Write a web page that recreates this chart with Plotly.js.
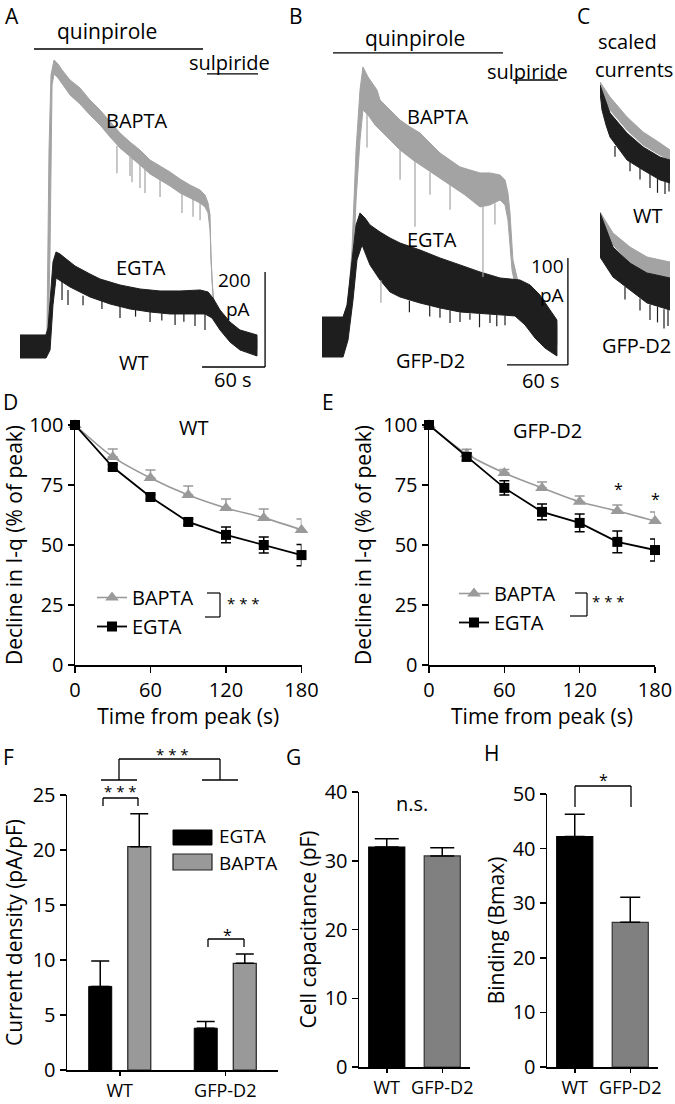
<!DOCTYPE html>
<html><head><meta charset="utf-8">
<script src="https://cdn.plot.ly/plotly-3.0.1.min.js"></script>
<style>html,body{margin:0;padding:0;background:#fff}#chart{width:675px;height:1104px}</style>
</head><body><div id="chart"></div><script>
// ================= DATA =================
// Panel A (WT) current traces: envelopes, time (s) and current (pA)
const aBaptaUpT = [22.8,25.7,27.6,29.5,32.4,36.2,40.0,47.6,57.1,66.6,76.2,85.7,95.2,104.7,114.2,123.8,133.3,142.8,152.3,161.8,171.4,176.1,179.0,180.9,181.8,183.7,186.6,192.3,204.7,225.6];
const aBaptaUpI = [10.5,37.9,416.8,574.7,606.2,597.8,585.2,564.1,547.3,522.0,501.0,475.7,452.6,433.6,416.8,395.7,383.1,370.5,355.7,343.1,332.6,322.1,305.2,280.0,185.2,111.6,69.5,46.3,31.6,21.1];
const aBaptaLoT = [22.8,26.7,28.6,30.5,32.4,36.2,40.0,47.6,57.1,66.6,76.2,85.7,95.2,104.7,114.2,123.8,133.3,142.8,152.3,161.8,171.4,176.1,179.0,180.9,182.8,184.6,188.5,194.2,204.7,225.6];
const aBaptaLoI = [-8.4,6.3,206.3,553.6,576.8,568.4,555.7,532.6,513.6,490.5,469.4,444.2,421.0,402.1,385.2,366.3,353.6,341.0,326.3,315.8,305.2,296.8,284.2,248.4,143.1,90.5,54.7,33.7,14.7,-4.2];
const aBaptaSpikeT = [92.3,104.7,106.6,114.2,119.0,133.3,154.2,164.7,171.4];
const aBaptaSpikeTop = [425,402,406,385,379,354,326,316,305];
const aBaptaSpikeBot = [368,362,349,337,326,318,284,276,269];
const aEgtaUpT = [0,24.8,26.7,28.6,31.4,34.3,38.1,42.8,52.4,66.6,76.2,95.2,114.2,133.3,152.3,171.4,179.0,183.7,190.4,199.9,209.4,225.6];
const aEgtaUpI = [27.4,27.4,42.1,101.0,181.0,202.1,197.9,189.5,172.6,155.8,145.2,132.6,124.2,120.0,120.0,122.1,117.9,105.3,80.0,54.7,37.9,27.4];
const aEgtaLoT = [0,24.8,28.6,31.4,34.3,38.1,47.6,66.6,85.7,104.7,123.8,142.8,161.8,176.1,182.8,190.4,199.9,209.4,225.6];
const aEgtaLoI = [-21.1,-21.1,-4.2,90.5,147.4,143.1,128.4,107.4,92.6,82.1,75.8,71.6,71.6,71.6,63.2,37.9,12.6,-4.2,-16.8];
const aEgtaSpikeT = [40.0,45.7,60.0,78.0,95.2,110.0,123.8,135.0,147.6,156.0,166.6,176.1];
const aEgtaSpikeTop = [143,122,110,100,90.5,85,75.8,73,71.6,71.6,71.6,71.6];
const aEgtaSpikeBot = [101,90.5,90,82,63.2,66,54.7,58,48.4,55,46.3,37.9];

// Panel B (GFP-D2) current traces
const bBaptaUpT = [17.7,25.6,29.5,33.5,37.4,40.3,45.3,50.2,54.1,57.1,66.9,76.8,86.6,96.4,106.3,116.1,126.0,135.8,145.6,155.5,165.3,175.2,180.1,183.0,185.0,187.9,194.8,207.6,221.4,231.2];
const bBaptaUpI = [12.2,30.9,82.3,175.8,231.9,253.4,244.0,236.6,231.9,222.5,213.2,203.8,197.3,191.7,182.3,173.0,166.4,159.9,157.1,154.3,154.3,152.4,147.7,135.6,116.9,72.9,44.9,35.5,23.4,12.2];
const bBaptaLoT = [17.7,25.6,29.5,33.5,37.4,40.3,45.3,52.2,62.0,76.8,89.5,106.3,126.0,140.7,155.5,165.3,175.2,180.1,183.0,187.0,192.9,204.7,219.4,231.2];
const bBaptaLoI = [-6.5,7.5,35.5,129.0,185.1,213.2,208.5,199.2,189.8,175.8,166.4,155.2,143.1,133.7,122.5,124.4,129.0,124.4,110.3,63.6,35.5,16.8,2.8,-6.5];
const bBaptaSpikeT = [44.3,58.0,76.8,91.5,106.3,126.0,158.4,170.2];
const bBaptaSpikeTop = [213,54,176,166,155,143,122.5,126];
const bBaptaSpikeBot = [178,33,148,104,134,120,57,106];
const bEgtaUpT = [0,20.7,24.6,29.5,33.5,37.4,42.3,47.2,57.1,66.9,76.8,96.4,116.1,135.8,155.5,175.2,194.8,204.7,214.5,224.4,231.2];
const bEgtaUpI = [19.6,19.6,30.9,72.9,105.7,116.9,112.2,105.7,99.1,93.5,88.8,82.3,74.8,68.3,61.7,56.1,54.2,49.6,40.2,26.2,16.8];
const bEgtaLoT = [0,20.7,25.6,30.5,34.4,39.4,47.2,57.1,66.9,76.8,96.4,116.1,135.8,155.5,175.2,189.9,199.8,209.6,219.4,231.2];
const bEgtaLoI = [-17.8,-17.8,-1.9,35.5,72.9,87.0,68.3,54.2,43.0,38.3,32.7,28.1,24.3,22.4,21.5,20.6,12.2,0,-9.4,-16.8];
const bEgtaSpikeT = [86.0,106.0,116.1,126.0,135.8,145.6,155.0,165.3,172.0,180.1];
const bEgtaSpikeTop = [35,30,28,26,24,23,22.4,22,21.5,21];
const bEgtaSpikeBot = [24,20,19,14,15,17,10,14,11,12];

// Panel C scaled currents (normalised to peak), time (s)
const cWtBaptaUpT = [0,10,20,54,86,120,140];
const cWtBaptaUpN = [0.983,0.917,0.858,0.692,0.567,0.475,0.417];
const cWtBaptaLoT = [0,10,20,54,86,120,140];
const cWtBaptaLoN = [0.933,0.84,0.75,0.583,0.458,0.375,0.333];
const cWtEgtaUpT = [0,10,20,54,86,120,140];
const cWtEgtaUpN = [0.958,0.833,0.725,0.558,0.442,0.358,0.333];
const cWtEgtaLoT = [0,4,12,20,54,86,120,140];
const cWtEgtaLoN = [0.9,0.75,0.625,0.525,0.333,0.25,0.167,0.142];
const cWtSpikeT = [30,60,80,100,115,130,138];
const cWtSpikeTop = [0.45,0.333,0.27,0.22,0.18,0.15,0.142];
const cWtSpikeBot = [0.36,0.24,0.17,0.1,0.06,0.05,0.07];
const cGfpBaptaUpT = [0,26,60,94,140];
const cGfpBaptaUpN = [1.0,0.825,0.708,0.625,0.583];
const cGfpBaptaLoT = [0,26,60,94,140];
const cGfpBaptaLoN = [0.933,0.725,0.583,0.5,0.433];
const cGfpEgtaUpT = [0,26,60,94,140];
const cGfpEgtaUpN = [0.992,0.708,0.575,0.492,0.45];
const cGfpEgtaLoT = [0,26,60,94,140];
const cGfpEgtaLoN = [0.625,0.458,0.35,0.242,0.183];
const cGfpSpikeT = [50,80,100,115,128,136];
const cGfpSpikeTop = [0.38,0.28,0.23,0.21,0.19,0.185];
const cGfpSpikeBot = [0.27,0.18,0.1,0.08,0.03,0.05];

// Panels D, E: decline of I-q (% of peak) vs time from peak (s)
const timeFromPeak = [0,30,60,90,120,150,180];
const wtBapta = [100,86.7,77.9,70.8,65.4,61.3,56.3];
const wtBaptaErr = [0,3.3,3.4,3.8,3.8,3.7,4.5];
const wtEgta = [100,82.5,70,59.6,54.2,50,45.8];
const wtEgtaErr = [0,1,1,1.2,3.3,3.3,4.4];
const gfpBapta = [100,87.9,80,73.8,68,64.2,60];
const gfpBaptaErr = [0,2,1.5,2.5,2.4,2.5,3.8];
const gfpEgta = [100,86.7,73.8,63.8,59.2,51.3,47.9];
const gfpEgtaErr = [0,1.5,3,3.3,3.7,4.5,4.6];

// Panels F, G, H
const genotypes = ['WT','GFP-D2'];
const densityEgta = [7.6,3.8];
const densityEgtaErr = [2.3,0.6];
const densityBapta = [20.3,9.7];
const densityBaptaErr = [3.0,0.85];
const capacitance = [32.0,30.7];
const capacitanceErr = [1.2,1.2];
const binding = [42.2,26.5];
const bindingErr = [4.1,4.6];

// ================= STYLE / HELPERS =================
const W = 675, H = 1104;
const FONT = 'Open Sans, Liberation Sans, Arial, sans-serif';
const GRAYTR = '#a3a3a3', BLACKTR = '#1e1e1e';
const px = x => x / W, py = y => 1 - y / H;
const dx = (a, b) => [a / W, b / W];
const dy = (top, bot) => [1 - bot / H, 1 - top / H];
const UP = 3; // bottom row lifted slightly so the category labels stay inside the page

function band(upT, upV, loT, loV, color, xa, ya) {
  return {type:'scatter', mode:'lines', x: upT.concat(loT.slice().reverse()),
    y: upV.concat(loV.slice().reverse()), fill:'toself', fillcolor: color,
    line:{color: color, width: 1}, xaxis: xa, yaxis: ya, showlegend:false, hoverinfo:'skip'};
}
function spikes(t, top, bot, color, xa, ya) {
  const x = [], y = [];
  t.forEach((v, i) => { x.push(v, v, null); y.push(top[i], bot[i], null); });
  return {type:'scatter', mode:'lines', x, y, line:{color, width:1.2}, xaxis: xa, yaxis: ya,
    showlegend:false, hoverinfo:'skip', connectgaps:false};
}

const traces = [];
// A
traces.push(band(aBaptaUpT, aBaptaUpI, aBaptaLoT, aBaptaLoI, GRAYTR, 'x', 'y'));
traces.push(spikes(aBaptaSpikeT, aBaptaSpikeTop, aBaptaSpikeBot, GRAYTR, 'x', 'y'));
traces.push(band(aEgtaUpT, aEgtaUpI, aEgtaLoT, aEgtaLoI, BLACKTR, 'x', 'y'));
traces.push(spikes(aEgtaSpikeT, aEgtaSpikeTop, aEgtaSpikeBot, BLACKTR, 'x', 'y'));
// B
traces.push(band(bBaptaUpT, bBaptaUpI, bBaptaLoT, bBaptaLoI, GRAYTR, 'x2', 'y2'));
traces.push(band(bEgtaUpT, bEgtaUpI, bEgtaLoT, bEgtaLoI, BLACKTR, 'x2', 'y2'));
traces.push(spikes(bBaptaSpikeT, bBaptaSpikeTop, bBaptaSpikeBot, GRAYTR, 'x2', 'y2'));
traces.push(spikes(bEgtaSpikeT, bEgtaSpikeTop, bEgtaSpikeBot, BLACKTR, 'x2', 'y2'));
// C
traces.push(band(cWtBaptaUpT, cWtBaptaUpN, cWtBaptaLoT, cWtBaptaLoN, GRAYTR, 'x3', 'y3'));
traces.push(band(cWtEgtaUpT, cWtEgtaUpN, cWtEgtaLoT, cWtEgtaLoN, BLACKTR, 'x3', 'y3'));
traces.push(spikes(cWtSpikeT, cWtSpikeTop, cWtSpikeBot, BLACKTR, 'x3', 'y3'));
traces.push(band(cGfpBaptaUpT, cGfpBaptaUpN, cGfpBaptaLoT, cGfpBaptaLoN, GRAYTR, 'x9', 'y9'));
traces.push(band(cGfpEgtaUpT, cGfpEgtaUpN, cGfpEgtaLoT, cGfpEgtaLoN, BLACKTR, 'x9', 'y9'));
traces.push(spikes(cGfpSpikeT, cGfpSpikeTop, cGfpSpikeBot, BLACKTR, 'x9', 'y9'));

// D, E
function declineTraces(bapta, baptaErr, egta, egtaErr, xa, ya, leg) {
  const zeros = bapta.map(() => 0);
  return [
    {type:'scatter', mode:'lines+markers', name:'BAPTA', x: timeFromPeak, y: bapta, xaxis: xa, yaxis: ya,
     legend: leg, cliponaxis:false, line:{color:'#9a9a9a', width:1.6, shape:'spline', smoothing:0.8},
     marker:{symbol:'triangle-up', size:12, color:'#9a9a9a'},
     error_y:{type:'data', array: baptaErr, arrayminus: zeros, symmetric:false, color:'#9a9a9a', thickness:1.5, width:5}},
    {type:'scatter', mode:'lines+markers', name:'EGTA', x: timeFromPeak, y: egta, xaxis: xa, yaxis: ya,
     legend: leg, cliponaxis:false, line:{color:'#000', width:1.8},
     marker:{symbol:'square', size:10, color:'#000'},
     error_y:{type:'data', array: egtaErr, color:'#000', thickness:1.5, width:5}}
  ];
}
traces.push(...declineTraces(wtBapta, wtBaptaErr, wtEgta, wtEgtaErr, 'x4', 'y4', 'legend'));
traces.push(...declineTraces(gfpBapta, gfpBaptaErr, gfpEgta, gfpEgtaErr, 'x5', 'y5', 'legend2'));

// F
traces.push({type:'bar', name:'EGTA', x: genotypes, y: densityEgta, xaxis:'x6', yaxis:'y6', width:0.218, offset:-0.294,
  marker:{color:'#000', line:{color:'#000', width:1}}, showlegend:false,
  error_y:{type:'data', array: densityEgtaErr, arrayminus:[0,0], symmetric:false, color:'#000', thickness:1.5, width:9}});
traces.push({type:'bar', name:'BAPTA', x: genotypes, y: densityBapta, xaxis:'x6', yaxis:'y6', width:0.218, offset:0.076,
  marker:{color:'#999999', line:{color:'#222', width:1.2}}, showlegend:false,
  error_y:{type:'data', array: densityBaptaErr, arrayminus:[0,0], symmetric:false, color:'#000', thickness:1.5, width:9}});
// G
traces.push({type:'bar', x: genotypes, y: capacitance, xaxis:'x7', yaxis:'y7', width:0.65, showlegend:false,
  marker:{color:['#000','#808080'], line:{color:['#000','#333'], width:1.2}},
  error_y:{type:'data', array: capacitanceErr, arrayminus:[0,0], symmetric:false, color:'#000', thickness:1.5, width:12}});
// H
traces.push({type:'bar', x: genotypes, y: binding, xaxis:'x8', yaxis:'y8', width:0.65, showlegend:false,
  marker:{color:['#000','#808080'], line:{color:['#000','#333'], width:1.2}},
  error_y:{type:'data', array: bindingErr, arrayminus:[0,0], symmetric:false, color:'#000', thickness:1.5, width:10}});

// ================= LAYOUT =================
const hidden = {visible:false, showgrid:false, zeroline:false, fixedrange:true};
const axBase = {showgrid:false, zeroline:false, showline:true, linecolor:'#000', linewidth:1.5,
  ticks:'outside', ticklen:6, tickwidth:1.5, tickcolor:'#000', tickfont:{size:20, color:'#000'}, fixedrange:true};
const barX = {ticklen:4, tickfont:{size:18, color:'#000'}};
const ttl = (text, standoff) => ({text, font:{size:21, color:'#000'}, standoff});

const layout = {
  width: W, height: H, margin:{l:0, r:0, t:0, b:0}, paper_bgcolor:'#fff', plot_bgcolor:'rgba(0,0,0,0)',
  font:{family: FONT, color:'#000', size:20}, barmode:'overlay', showlegend:true, hovermode:false,
  xaxis: Object.assign({}, hidden, {domain: dx(0,280), range:[-19.04,247.5], anchor:'y'}),
  yaxis: Object.assign({}, hidden, {domain: dy(0,400), range:[-109.5,732.5], anchor:'x'}),
  xaxis2: Object.assign({}, hidden, {domain: dx(290,580), range:[-31.5,253.9], anchor:'y2'}),
  yaxis2: Object.assign({}, hidden, {domain: dy(0,400), range:[-58.0,316.0], anchor:'x2'}),
  xaxis3: Object.assign({}, hidden, {domain: dx(600,670), range:[0,140], anchor:'y3'}),
  yaxis3: Object.assign({}, hidden, {domain: dy(80,200), range:[0,1], anchor:'x3'}),
  xaxis9: Object.assign({}, hidden, {domain: dx(600,670), range:[0,140], anchor:'y9'}),
  yaxis9: Object.assign({}, hidden, {domain: dy(212,332), range:[0,1], anchor:'x9'}),
  xaxis4: Object.assign({}, axBase, {domain: dx(75,301.5), range:[0,180], tickvals:[0,60,120,180], anchor:'y4',
    title: ttl('Time from peak (s)', 3)}),
  yaxis4: Object.assign({}, axBase, {domain: dy(425,665), range:[0,100], tickvals:[0,25,50,75,100], anchor:'x4',
    title: ttl('Decline in I-q (% of peak)', 6)}),
  xaxis5: Object.assign({}, axBase, {domain: dx(429,655), range:[0,180], tickvals:[0,60,120,180], anchor:'y5',
    title: ttl('Time from peak (s)', 3)}),
  yaxis5: Object.assign({}, axBase, {domain: dy(425,665), range:[0,100], tickvals:[0,25,50,75,100], anchor:'x5',
    title: ttl('Decline in I-q (% of peak)', 6)}),
  xaxis6: Object.assign({}, axBase, barX, {domain: dx(67,278), type:'category', range:[-0.5,1.5], anchor:'y6'}),
  yaxis6: Object.assign({}, axBase, {domain: dy(798-UP,1073-UP), range:[0,25], tickvals:[0,5,10,15,20,25], anchor:'x6',
    title: ttl('Current density (pA/pF)', 5)}),
  xaxis7: Object.assign({}, axBase, barX, {domain: dx(359,470), type:'category', range:[-0.5,1.5], anchor:'y7'}),
  yaxis7: Object.assign({}, axBase, {domain: dy(795-UP,1070-UP), range:[0,40], tickvals:[0,10,20,30,40], anchor:'x7',
    title: ttl('Cell capacitance (pF)', 2)}),
  xaxis8: Object.assign({}, axBase, barX, {domain: dx(547,658), type:'category', range:[-0.5,1.5], anchor:'y8'}),
  yaxis8: Object.assign({}, axBase, {domain: dy(797-UP,1070-UP), range:[0,50], tickvals:[0,10,20,30,40,50], anchor:'x8',
    title: ttl('Binding (Bmax)', 2)}),
  legend: {x: px(92), y: py(578), xanchor:'left', yanchor:'top', bgcolor:'rgba(0,0,0,0)', font:{size:20},
    itemclick:false, itemdoubleclick:false, tracegroupgap:0},
  legend2: {x: px(454), y: py(574), xanchor:'left', yanchor:'top', bgcolor:'rgba(0,0,0,0)', font:{size:20},
    itemclick:false, itemdoubleclick:false, tracegroupgap:0},
  annotations: [], shapes: []
};

function ann(text, x, y, size, extra) {
  layout.annotations.push(Object.assign({text, x: px(x), y: py(y), xref:'paper', yref:'paper', showarrow:false,
    xanchor:'center', yanchor:'middle', font:{size: size || 20, color:'#000'}}, extra || {}));
}
function line(x0, y0, x1, y1, w) {
  layout.shapes.push({type:'line', xref:'paper', yref:'paper', x0: px(x0), y0: py(y0), x1: px(x1), y1: py(y1),
    line:{color:'#000', width: w || 1.5}});
}
function dline(xr, yr, x0, y0, x1, y1, w) {
  layout.shapes.push({type:'line', xref: xr, yref: yr, x0, y0, x1, y1, line:{color:'#000', width: w || 1.5}});
}

// Panel labels
ann('A', 12, 16, 21); ann('B', 296, 16, 21); ann('C', 583, 16, 21);
ann('D', 11, 402, 21); ann('E', 328, 402, 21);
ann('F', 8, 757, 21); ann('G', 293, 757, 21); ann('H', 491, 753, 21);
// A
ann('quinpirole', 107, 31, 21); ann('sulpiride', 229, 62, 20); ann('BAPTA', 137, 120); ann('EGTA', 141, 268);
ann('200', 234, 280, 19); ann('pA', 238, 309, 19); ann('WT', 133, 362); ann('60 s', 233, 379);
dline('x','y', 13.3, 629.4, 174.2, 629.4, 1.3); dline('x','y', 178, 576.8, 226.6, 576.8, 1.3);
dline('x','y', 173.3, -40, 233.3, -40, 1.3); dline('x','y', 233.3, -40, 233.3, 160, 1.3);
// B
ann('quinpirole', 415, 38, 21); ann('sulpiride', 527, 71, 20); ann('BAPTA', 438, 117); ann('EGTA', 432, 240);
ann('100', 547, 266, 19); ann('pA', 552, 295, 19); ann('GFP-D2', 430, 360); ann('60 s', 541, 380);
dline('x2','y2', 10.8, 266.5, 178.1, 266.5, 1.3); dline('x2','y2', 187.9, 241.2, 232.2, 241.2, 1.3);
dline('x2','y2', 182.0, -25.2, 242.0, -25.2, 1.3); dline('x2','y2', 242.0, -25.2, 242.0, 74.8, 1.3);
// C
ann('scaled', 627, 41); ann('currents', 634, 69); ann('WT', 647, 216); ann('GFP-D2', 636, 345);
// D
ann('WT', 193, 427); ann('* * *', 244, 603, 15);
line(207, 593, 220, 593, 1.2); line(220, 593, 220, 617, 1.2); line(205, 617, 220, 617, 1.2);
// E
ann('GFP-D2', 547, 430); ann('*', 618, 489, 16); ann('*', 655, 499, 16); ann('* * *', 608, 601, 15);
line(575, 593, 587, 593, 1.2); line(587, 593, 587, 616, 1.2); line(570, 616, 587, 616, 1.2);
// F
const u = UP;
ann('* * *', 172, 757-u, 15); ann('* * *', 120, 794-u, 15); ann('*', 227, 938-u, 16);
line(103, 809-u, 103, 801-u, 1.3); line(103, 801-u, 138, 801-u, 1.3); line(138, 801-u, 138, 809-u, 1.3);
line(101, 783-u, 137, 783-u, 1.3); line(119, 783-u, 119, 762-u, 1.3); line(119, 762-u, 220, 762-u, 1.3);
line(220, 762-u, 220, 783-u, 1.3); line(202, 783-u, 238, 783-u, 1.3);
line(208, 950-u, 208, 942-u, 1.3); line(208, 942-u, 244, 942-u, 1.3); line(244, 942-u, 244, 950-u, 1.3);
layout.shapes.push({type:'rect', xref:'paper', yref:'paper', x0: px(173), x1: px(212), y0: py(848-u), y1: py(833-u),
  fillcolor:'#000', line:{color:'#000', width:1}});
layout.shapes.push({type:'rect', xref:'paper', yref:'paper', x0: px(173), x1: px(212), y0: py(873-u), y1: py(857-u),
  fillcolor:'#999999', line:{color:'#222', width:1.2}});
ann('EGTA', 217, 839-u, 19, {xanchor:'left'}); ann('BAPTA', 217, 866-u, 19, {xanchor:'left'});
// G
ann('n.s.', 412, 806-u);
// H
ann('*', 603, 783-u, 16);
line(575, 810-u, 575, 789-u, 1.3); line(575, 789-u, 631, 789-u, 1.3); line(631, 789-u, 631, 810-u, 1.3);

Plotly.newPlot('chart', traces, layout, {staticPlot:true, displayModeBar:false});
</script></body></html>
